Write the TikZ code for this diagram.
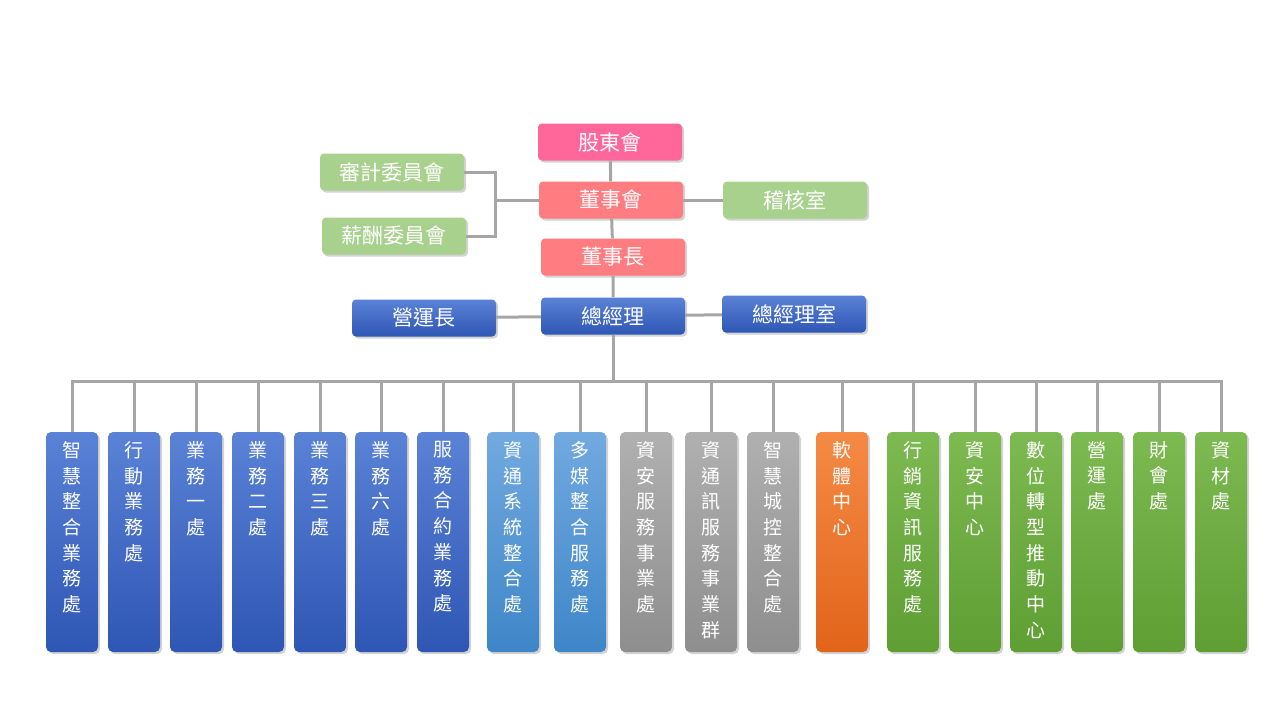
\documentclass[tikz,border=0pt]{standalone}
\usepackage{fontspec}
\setmainfont{Noto Sans CJK TC}
\usetikzlibrary{shadows}
\definecolor{linegray}{HTML}{A6A6A6}
\definecolor{pinkA}{HTML}{FF6699}
\definecolor{salmon}{HTML}{FF7C80}
\definecolor{lgreen}{HTML}{A9D18E}
\definecolor{blueT}{HTML}{5A82D6}
\definecolor{blueB}{HTML}{2E56B4}
\definecolor{skyT}{HTML}{72A9E0}
\definecolor{skyB}{HTML}{3E86C8}
\definecolor{grayT}{HTML}{B0B0B0}
\definecolor{grayB}{HTML}{8E8E8E}
\definecolor{orT}{HTML}{F58A45}
\definecolor{orB}{HTML}{E2641A}
\definecolor{grT}{HTML}{7DBA52}
\definecolor{grB}{HTML}{5E9E33}
\tikzset{
  box/.style={rounded corners=4pt,minimum width=144pt,minimum height=37pt,text=white,
    font=\fontsize{21}{24}\selectfont,drop shadow={opacity=0.35,shadow xshift=2pt,shadow yshift=-2pt}},
  bluebox/.style={box,top color=blueT,bottom color=blueB,draw=none},
  col/.style={rounded corners=5pt,minimum width=52pt,minimum height=220pt,
    drop shadow={opacity=0.35,shadow xshift=2pt,shadow yshift=-2pt}},
  coltext/.style={text=white,align=center,anchor=north,font=\fontsize{19}{25.7}\selectfont},
  link/.style={linegray,line width=3pt}
}
\begin{document}
\begin{tikzpicture}[x=1pt,y=-1pt]
\useasboundingbox (0,0) rectangle (1280,720);
% board level
\node[box,fill=pinkA] (share) at (610,142) {股東會};
\node[box,fill=salmon] (board) at (611,200) {董事會};
\node[box,fill=salmon] (chair) at (613,257) {董事長};
\node[box,fill=lgreen] (audit) at (392,172) {審計委員會};
\node[box,fill=lgreen] (pay) at (394,236) {薪酬委員會};
\node[box,fill=lgreen] (check) at (795,200) {稽核室};
\node[bluebox] (gm) at (613,316) {總經理};
\node[bluebox] (coo) at (424,318) {營運長};
\node[bluebox] (gmo) at (794,314) {總經理室};
\coordinate (fork) at (495,200);
\draw[link] (share) -- (board) -- (chair) -- (gm);
\draw[link] (audit.east) -| (fork) |- (pay.east);
\draw[link] (fork) -- (board.west);
\draw[link] (board) -- (check);
\draw[link] (coo) -- (gm) -- (gmo);
% departments
\foreach \i/\x/\c/\t in {
  1/72/blue/智\\慧\\整\\合\\業\\務\\處,
  2/134/blue/行\\動\\業\\務\\處,
  3/196/blue/業\\務\\一\\處,
  4/258/blue/業\\務\\二\\處,
  5/320/blue/業\\務\\三\\處,
  6/381/blue/業\\務\\六\\處,
  7/443/blue/服\\務\\合\\約\\業\\務\\處,
  8/513/sky/資\\通\\系\\統\\整\\合\\處,
  9/580/sky/多\\媒\\整\\合\\服\\務\\處,
  10/646/gray/資\\安\\服\\務\\事\\業\\處,
  11/711/gray/資\\通\\訊\\服\\務\\事\\業\\群,
  12/773/gray/智\\慧\\城\\控\\整\\合\\處,
  13/842/or/軟\\體\\中\\心,
  14/913/gr/行\\銷\\資\\訊\\服\\務\\處,
  15/975/gr/資\\安\\中\\心,
  16/1036/gr/數\\位\\轉\\型\\推\\動\\中\\心,
  17/1097/gr/營\\運\\處,
  18/1159/gr/財\\會\\處,
  19/1221/gr/資\\材\\處}{
  \draw[link] (gm.south) -- ++(0,47) -| (\x,432);
  \node[col,top color=\c T,bottom color=\c B] (c\i) at (\x,542) {};
  \node[coltext] (t\i) at ([yshift=-6pt]c\i.north) {\t};
}
\end{tikzpicture}
\end{document}
